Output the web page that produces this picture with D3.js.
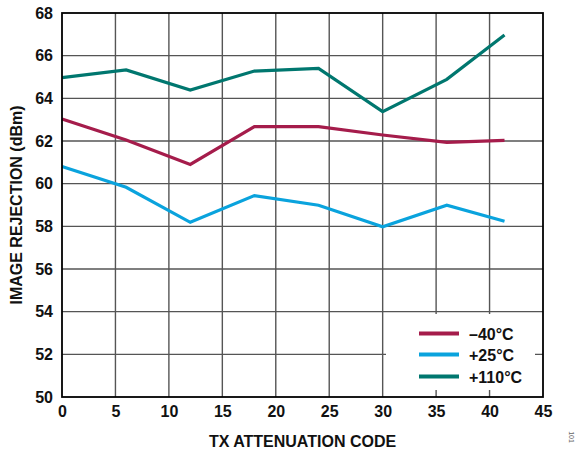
<!DOCTYPE html>
<html>
<head>
<meta charset="utf-8">
<script src="https://cdn.jsdelivr.net/npm/d3@7"></script>
<style>
body{margin:0;background:#fff;}
svg{display:block;font-family:"Liberation Sans",Arial,sans-serif;}
</style>
</head>
<body>
<svg id="chart" width="575" height="453"></svg>
<script>
const codes = [0, 6, 12, 18, 24, 30, 36, 41.4];
const seriesNames = ["\u201340\u00B0C", "+25\u00B0C", "+110\u00B0C"];
const seriesColors = ["#A51C4B", "#0AA3DD", "#00776F"];
const minus40 = [63.03, 62.05, 60.9, 62.67, 62.67, 62.28, 61.94, 62.03];
const plus25 = [60.8, 59.83, 58.19, 59.44, 58.99, 57.98, 58.99, 58.24];
const plus110 = [64.97, 65.33, 64.39, 65.28, 65.4, 63.38, 64.89, 66.97];
const xTicks = [0, 5, 10, 15, 20, 25, 30, 35, 40, 45];
const yTicks = [50, 52, 54, 56, 58, 60, 62, 64, 66, 68];

const series = [minus40, plus25, plus110];
const svg = d3.select("#chart");
const L = 62, R = 543, T = 13, B = 397;
const FS = 16;
const x = d3.scaleLinear().domain([0, 45]).range([L, R]);
const y = d3.scaleLinear().domain([50, 68]).range([B, T]);

// grid
const grid = svg.append("g");
grid.selectAll("line.v").data(xTicks.slice(1, -1)).enter().append("line")
  .attr("x1", d => x(d)).attr("x2", d => x(d)).attr("y1", T).attr("y2", B)
  .attr("stroke", "#555").attr("stroke-width", 1.4);
grid.selectAll("line.h").data(yTicks.slice(1, -1)).enter().append("line")
  .attr("x1", L).attr("x2", R).attr("y1", d => y(d)).attr("y2", d => y(d))
  .attr("stroke", "#555").attr("stroke-width", 1.4);

// legend background
svg.append("rect").attr("x", 386).attr("y", 314).attr("width", 149).attr("height", 76).attr("fill", "#fff");

// lines
const line = d3.line().x((d, i) => x(codes[i])).y(d => y(d));
series.forEach((s, k) => {
  svg.append("path").datum(s).attr("d", line).attr("fill", "none")
    .attr("stroke", seriesColors[k]).attr("stroke-width", 3.2)
    .attr("stroke-linejoin", "miter");
});

// frame
svg.append("rect").attr("x", L).attr("y", T).attr("width", R - L).attr("height", B - T)
  .attr("fill", "none").attr("stroke", "#000").attr("stroke-width", 1.8);

// axes
const xAxis = d3.axisBottom(x).tickValues(xTicks).tickSize(0).tickPadding(9).tickFormat(d3.format("d"));
const gx = svg.append("g").attr("transform", `translate(0,${B})`).call(xAxis);
gx.select(".domain").remove();
gx.selectAll("text").attr("font-size", FS).attr("font-weight", "bold").attr("fill", "#111")
  .attr("font-family", "Liberation Sans, Arial, sans-serif");

const yAxis = d3.axisLeft(y).tickValues(yTicks).tickSize(0).tickPadding(9).tickFormat(d3.format("d"));
const gy = svg.append("g").attr("transform", `translate(${L},0)`).call(yAxis);
gy.select(".domain").remove();
gy.selectAll("text").attr("font-size", FS).attr("font-weight", "bold").attr("fill", "#111")
  .attr("font-family", "Liberation Sans, Arial, sans-serif");

svg.append("text").attr("x", (L + R) / 2).attr("y", 447).attr("text-anchor", "middle")
  .attr("font-size", FS).attr("font-weight", "bold").attr("fill", "#111").text("TX ATTENUATION CODE");
svg.append("text").attr("transform", `translate(22,${(T + B) / 2}) rotate(-90)`).attr("text-anchor", "middle")
  .attr("font-size", FS).attr("font-weight", "bold").attr("fill", "#111").text("IMAGE REJECTION (dBm)");

// legend
const leg = svg.append("g");
const legY = [333.5, 354.5, 376.5];
seriesNames.forEach((n, k) => {
  leg.append("line").attr("x1", 419).attr("x2", 459).attr("y1", legY[k]).attr("y2", legY[k])
    .attr("stroke", seriesColors[k]).attr("stroke-width", 4);
  leg.append("text").attr("x", 469).attr("y", legY[k] + 6).attr("font-size", FS)
    .attr("font-weight", "bold").attr("fill", "#111").text(n);
});

// figure id
svg.append("text").attr("transform", "translate(569,437) rotate(90)").attr("text-anchor", "middle")
  .attr("font-size", 7).attr("fill", "#666").text("101");
</script>
</body>
</html>
